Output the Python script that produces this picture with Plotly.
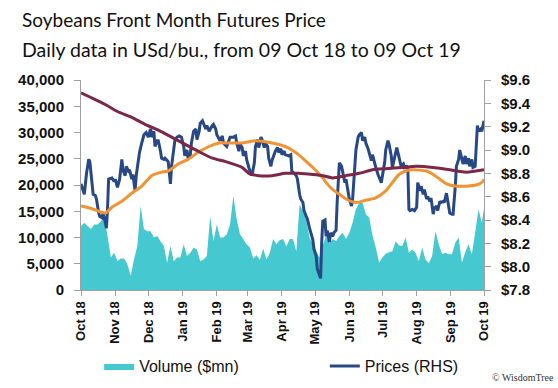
import pandas as pd
import plotly.graph_objects as go

# ---------------- data ----------------
price_dates = [
    "2018-10-09","2018-10-12","2018-10-14","2018-10-16","2018-10-17","2018-10-18","2018-10-20","2018-10-22",
    "2018-10-23","2018-10-25","2018-10-26","2018-10-28","2018-10-29","2018-10-31","2018-11-01","2018-11-02",
    "2018-11-03","2018-11-06","2018-11-08","2018-11-09","2018-11-11","2018-11-13","2018-11-15","2018-11-16",
    "2018-11-18","2018-11-19","2018-11-21","2018-11-22","2018-11-24","2018-11-25","2018-11-27","2018-11-28",
    "2018-11-30","2018-12-01","2018-12-03","2018-12-05","2018-12-07","2018-12-09","2018-12-11","2018-12-12",
    "2018-12-14","2018-12-15","2018-12-17","2018-12-18","2018-12-20","2018-12-21","2018-12-23","2018-12-24",
    "2018-12-27","2018-12-29","2018-12-30","2019-01-01","2019-01-02","2019-01-04","2019-01-06","2019-01-08",
    "2019-01-10","2019-01-11","2019-01-13","2019-01-14","2019-01-16","2019-01-17","2019-01-19","2019-01-21",
    "2019-01-22","2019-01-24","2019-01-25","2019-01-27","2019-01-28","2019-01-30","2019-01-31","2019-02-02",
    "2019-02-05","2019-02-06","2019-02-08","2019-02-09","2019-02-12","2019-02-14","2019-02-15","2019-02-18",
    "2019-02-21","2019-02-24","2019-02-26","2019-02-27","2019-03-01","2019-03-02","2019-03-04","2019-03-05",
    "2019-03-07","2019-03-08","2019-03-10","2019-03-12","2019-03-13","2019-03-15","2019-03-16","2019-03-18",
    "2019-03-19","2019-03-21","2019-03-22","2019-03-24","2019-03-25","2019-03-27","2019-03-28","2019-03-30",
    "2019-03-31","2019-04-02","2019-04-03","2019-04-05","2019-04-06","2019-04-08","2019-04-09","2019-04-11",
    "2019-04-12","2019-04-15","2019-04-17","2019-04-18","2019-04-19","2019-04-22","2019-04-23","2019-04-25",
    "2019-04-26","2019-04-28","2019-04-29","2019-05-01","2019-05-02","2019-05-04","2019-05-05","2019-05-07",
    "2019-05-08","2019-05-10","2019-05-11","2019-05-13","2019-05-14","2019-05-15","2019-05-16","2019-05-18",
    "2019-05-19","2019-05-20","2019-05-22","2019-05-23","2019-05-25","2019-05-26","2019-05-28","2019-05-29",
    "2019-05-31","2019-06-02","2019-06-03","2019-06-05","2019-06-06","2019-06-08","2019-06-09","2019-06-11",
    "2019-06-12","2019-06-14","2019-06-15","2019-06-17","2019-06-18","2019-06-20","2019-06-21","2019-06-23",
    "2019-06-24","2019-06-26","2019-06-27","2019-06-29","2019-06-30","2019-07-02","2019-07-03","2019-07-05",
    "2019-07-06","2019-07-08","2019-07-09","2019-07-11","2019-07-12","2019-07-14","2019-07-15","2019-07-17",
    "2019-07-18","2019-07-20","2019-07-22","2019-07-23","2019-07-25","2019-07-26","2019-07-28","2019-07-29",
    "2019-07-31","2019-08-01","2019-08-02","2019-08-03","2019-08-05","2019-08-07","2019-08-09","2019-08-10",
    "2019-08-12","2019-08-13","2019-08-15","2019-08-16","2019-08-18","2019-08-19","2019-08-21","2019-08-22",
    "2019-08-24","2019-08-25","2019-08-27","2019-08-28","2019-08-30","2019-08-31","2019-09-02","2019-09-03",
    "2019-09-05","2019-09-06","2019-09-08","2019-09-10","2019-09-11","2019-09-13","2019-09-14","2019-09-16",
    "2019-09-17","2019-09-19","2019-09-20","2019-09-22","2019-09-23","2019-09-25","2019-09-26","2019-09-28",
    "2019-09-29","2019-10-01","2019-10-02","2019-10-03","2019-10-04","2019-10-06","2019-10-07","2019-10-08",
    "2019-10-09",
]
price_values = [
    8.71, 8.62, 8.80, 8.92, 8.90, 8.81, 8.62, 8.61,
    8.58, 8.46, 8.43, 8.42, 8.46, 8.38, 8.33, 8.49,
    8.75, 8.76, 8.73, 8.75, 8.68, 8.75, 8.92, 8.83,
    8.78, 8.86, 8.82, 8.83, 8.75, 8.79, 8.65, 8.78,
    8.92, 8.98, 9.06, 9.13, 9.15, 9.11, 9.18, 9.11,
    9.16, 9.03, 9.08, 9.08, 8.99, 8.93, 8.92, 8.93,
    8.90, 8.71, 8.86, 8.98, 9.08, 9.11, 9.12, 9.11,
    9.03, 8.95, 9.00, 8.93, 8.96, 9.06, 9.16, 9.18,
    9.09, 9.16, 9.23, 9.25, 9.23, 9.18, 9.21, 9.16,
    9.21, 9.22, 9.18, 9.13, 9.08, 9.12, 9.06, 9.03,
    9.11, 9.11, 9.12, 9.06, 8.99, 9.05, 9.02, 8.95,
    8.99, 8.92, 8.85, 8.79, 8.79, 8.89, 9.03, 9.09,
    9.02, 9.11, 9.09, 9.02, 9.06, 9.03, 8.93, 8.86,
    8.91, 8.96, 8.99, 9.02, 8.98, 9.01, 8.96, 8.99,
    8.96, 8.95, 8.96, 8.81, 8.81, 8.78, 8.75, 8.62,
    8.58, 8.55, 8.48, 8.43, 8.41, 8.33, 8.30, 8.23,
    8.15, 8.09, 7.98, 7.93, 7.90, 8.21, 8.39, 8.40,
    8.26, 8.31, 8.21, 8.29, 8.26, 8.29, 8.31, 8.55,
    8.89, 8.86, 8.81, 8.72, 8.75, 8.63, 8.58, 8.52,
    8.58, 8.86, 9.00, 9.11, 9.13, 9.15, 9.08, 9.11,
    9.06, 9.01, 8.98, 8.91, 8.96, 8.88, 8.85, 8.79,
    8.76, 8.72, 8.78, 8.89, 9.00, 9.08, 9.05, 8.95,
    8.85, 8.95, 9.02, 8.98, 8.88, 8.86, 8.88, 8.85,
    8.86, 8.85, 8.49, 8.48, 8.49, 8.48, 8.51, 8.72,
    8.65, 8.69, 8.62, 8.66, 8.58, 8.60, 8.56, 8.59,
    8.45, 8.50, 8.52, 8.48, 8.56, 8.55, 8.56, 8.55,
    8.63, 8.56, 8.46, 8.45, 8.45, 8.69, 8.86, 8.92,
    9.00, 8.92, 8.88, 8.95, 8.88, 8.93, 8.86, 8.92,
    8.85, 8.86, 9.06, 9.21, 9.16, 9.18, 9.16, 9.22,
    9.25,
]

ma_short_dates = [
    "2018-10-09","2018-10-18","2018-10-31","2018-11-06","2018-11-15","2018-11-24","2018-12-03","2018-12-12",
    "2018-12-21","2018-12-27","2019-01-05","2019-01-14","2019-01-23","2019-02-02","2019-02-11","2019-02-20",
    "2019-03-04","2019-03-16","2019-03-31","2019-04-12","2019-04-18","2019-04-24","2019-04-30","2019-05-07",
    "2019-05-16","2019-05-19","2019-05-25","2019-05-31","2019-06-06","2019-06-15","2019-06-24","2019-07-03",
    "2019-07-12","2019-07-18","2019-07-24","2019-07-30","2019-08-05","2019-08-18","2019-08-24","2019-08-30",
    "2019-09-05","2019-09-14","2019-09-23","2019-10-02","2019-10-08","2019-10-09",
]
ma_short_values = [
    8.52, 8.50, 8.46, 8.51, 8.56, 8.63, 8.69, 8.78,
    8.81, 8.82, 8.88, 8.92, 8.98, 9.03, 9.06, 9.06,
    9.06, 9.08, 9.06, 9.03, 9.00, 8.96, 8.91, 8.85,
    8.76, 8.72, 8.66, 8.62, 8.58, 8.55, 8.57, 8.59,
    8.65, 8.72, 8.79, 8.82, 8.83, 8.82, 8.79, 8.75,
    8.71, 8.69, 8.69, 8.70, 8.73, 8.75,
]

ma_long_dates = [
    "2018-10-09","2018-10-18","2018-10-31","2018-11-11","2018-11-24","2018-12-06","2018-12-18","2018-12-30",
    "2019-01-11","2019-01-23","2019-02-05","2019-02-17","2019-03-04","2019-03-10","2019-03-19","2019-03-31",
    "2019-04-12","2019-04-24","2019-05-07","2019-05-16","2019-05-25","2019-06-06","2019-06-18","2019-06-30",
    "2019-07-12","2019-07-27","2019-08-09","2019-08-24","2019-09-08","2019-09-23","2019-10-09",
]
ma_long_values = [
    9.49, 9.45, 9.39, 9.33, 9.28, 9.22, 9.17, 9.11,
    9.05, 8.99, 8.93, 8.90, 8.85, 8.80, 8.78, 8.78,
    8.80, 8.80, 8.79, 8.78, 8.76, 8.78, 8.80, 8.83,
    8.84, 8.85, 8.86, 8.85, 8.83, 8.81, 8.83,
]

# volume ($mn), one reading every 3 calendar days from 09 Oct 18
volume_start = "2018-10-09"
volume_values = [
    12200, 12800, 12200, 11600, 12500, 12500, 13100, 14100, 10300, 6200,
    7100, 5500, 6000, 6000, 4900, 2700, 5800, 8400, 16000, 11600,
    11200, 11200, 10000, 10300, 9300, 8400, 5200, 8400, 5500, 6200,
    6200, 8700, 6500, 7100, 8100, 7700, 5500, 5800, 6500, 14100,
    9300, 12500, 10000, 10000, 10600, 12500, 17900, 13500, 10600, 9700,
    8700, 8100, 6000, 6600, 5700, 7900, 5800, 7100, 9700, 8700,
    9500, 9700, 8300, 9700, 9700, 7400, 16300, 15100, 13300, 10000,
    8700, 7600, 6200, 8500, 10400, 8900, 9700, 9300, 10300, 10900,
    9700, 10900, 12800, 15400, 16600, 16600, 14400, 13800, 10400, 8100,
    5200, 6200, 6900, 7200, 7400, 9300, 8500, 8400, 10000, 7100,
    7700, 7100, 5500, 8100, 5800, 5100, 6500, 11200, 8700, 6800,
    7100, 6800, 6800, 9000, 10000, 5200, 7200, 8700, 6800, 10900,
    15400, 12800, 17000,
]
volume_dates = pd.date_range(volume_start, periods=len(volume_values), freq="3D")

tick_dates = ["2018-10-09","2018-11-09","2018-12-09","2019-01-09","2019-02-09","2019-03-09","2019-04-09",
              "2019-05-09","2019-06-09","2019-07-09","2019-08-09","2019-09-09","2019-10-09"]
tick_labels = ["Oct 18","Nov 18","Dec 18","Jan 19","Feb 19","Mar 19","Apr 19",
               "May 19","Jun 19","Jul 19","Aug 19","Sep 19","Oct 19"]

# ---------------- figure ----------------
CYAN = "#46C8D0"
NAVY = "#284885"
ORANGE = "#F29232"
MAROON = "#7B2748"
AXIS = "#A0A0A0"

fig = go.Figure()
fig.add_trace(go.Scatter(x=volume_dates, y=volume_values, name="Volume ($mn)", mode="lines",
                         line=dict(width=0, color=CYAN), fill="tozeroy", fillcolor=CYAN,
                         yaxis="y", hoverinfo="skip", legend="legend"))
fig.add_trace(go.Scatter(x=price_dates, y=price_values, name="Prices (RHS)", mode="lines",
                         line=dict(width=3, color=NAVY), yaxis="y2", legend="legend2"))
fig.add_trace(go.Scatter(x=ma_short_dates, y=ma_short_values, name="50d MA", mode="lines",
                         line=dict(width=3, color=ORANGE, shape="spline", smoothing=0.6),
                         yaxis="y2", showlegend=False))
fig.add_trace(go.Scatter(x=ma_long_dates, y=ma_long_values, name="200d MA", mode="lines",
                         line=dict(width=3, color=MAROON, shape="spline", smoothing=0.6),
                         yaxis="y2", showlegend=False))

TICKFONT = dict(family="Liberation Sans", size=15, color="#111111", weight="bold")
LEGFONT = dict(family="Liberation Sans", size=16, color="#111111")

fig.update_layout(
    width=558, height=388,
    margin=dict(l=81, r=74, t=80, b=98),
    paper_bgcolor="white", plot_bgcolor="white",
    showlegend=True,
    legend=dict(orientation="h", x=0.045, y=0.0567, xanchor="left", yanchor="middle", yref="container",
                font=LEGFONT, bgcolor="rgba(0,0,0,0)", itemwidth=30),
    legend2=dict(orientation="h", x=0.605, y=0.0567, xanchor="left", yanchor="middle", yref="container",
                 font=LEGFONT, bgcolor="rgba(0,0,0,0)", itemwidth=30),
    xaxis=dict(type="date", range=["2018-10-09", "2019-10-09"], tickvals=tick_dates, ticktext=tick_labels,
               tickangle=-90, showgrid=False, zeroline=False, showline=True, linecolor=AXIS, linewidth=1,
               ticks="outside", ticklen=5, tickcolor=AXIS, automargin=False,
               tickfont=dict(family="Liberation Sans", size=13, color="#111111", weight="bold")),
    yaxis=dict(range=[0, 40000], dtick=5000, tickformat=",", showgrid=False, zeroline=False,
               showline=True, linecolor=AXIS, linewidth=1, ticks="outside", ticklen=6, tickcolor=AXIS,
               tickfont=TICKFONT, automargin=False, ticklabelstandoff=7),
    yaxis2=dict(range=[7.8, 9.6], dtick=0.2, tickformat=".1f", tickprefix="$", overlaying="y", side="right",
                showgrid=False, zeroline=False, showline=True, linecolor=AXIS, linewidth=1,
                ticks="outside", ticklen=6, tickcolor=AXIS, tickfont=TICKFONT, automargin=False,
                ticklabelstandoff=7),
    annotations=[
        dict(text="Soybeans Front Month Futures Price", xref="paper", yref="paper", x=-0.151, y=1.29,
             xanchor="left", yanchor="middle", showarrow=False,
             font=dict(family="Lato", size=19, color="#111111")),
        dict(text="Daily data in USd/bu., from 09 Oct 18 to 09 Oct 19", xref="paper", yref="paper",
             x=-0.151, y=1.143, xanchor="left", yanchor="middle", showarrow=False,
             font=dict(family="Lato", size=19.5, color="#111111")),
        dict(text="© WisdomTree", xref="paper", yref="paper", x=1.178, y=-0.419, xanchor="right",
             yanchor="middle", showarrow=False,
             font=dict(family="Liberation Serif", size=10, color="#333333")),
    ],
)

fig.write_html("out.html", config={"displayModeBar": False},
               post_script="document.body.style.margin='0px';")
